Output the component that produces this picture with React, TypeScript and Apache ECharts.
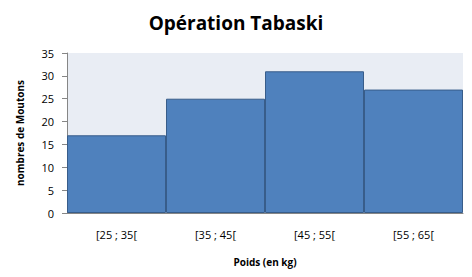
import React, { useEffect, useRef } from "react";
import * as echarts from "echarts";

const categories = ["[25 ; 35[", "[35 ; 45[", "[45 ; 55[", "[55 ; 65["];
const counts = [17, 25, 31, 27];
const title = "Opération Tabaski";
const xTitle = "Poids (en kg)";
const yTitle = "nombres de Moutons";

export default function App() {
  const ref = useRef<HTMLDivElement>(null);
  useEffect(() => {
    if (!ref.current) return;
    const chart = echarts.init(ref.current, null, { renderer: "svg" });
    const font = "'Open Sans', 'Noto Sans', sans-serif";
    chart.setOption({
      animation: false,
      backgroundColor: "#ffffff",
      title: {
        text: title,
        left: "center",
        top: 8,
        textStyle: { fontFamily: font, fontSize: 19, fontWeight: "bold", color: "#000" },
      },
      grid: {
        left: 67,
        right: 9,
        top: 53,
        bottom: 64,
        show: true,
        backgroundColor: "#e9edf4",
        borderWidth: 0,
      },
      xAxis: {
        type: "category",
        data: categories,
        name: xTitle,
        nameLocation: "middle",
        nameGap: 44,
        nameTextStyle: { fontFamily: font, fontSize: 10, fontWeight: "bold", color: "#000" },
        axisLine: { lineStyle: { color: "#868686" } },
        axisTick: { show: false },
        axisLabel: { fontFamily: font, fontSize: 11, color: "#000", margin: 16 },
      },
      yAxis: {
        type: "value",
        min: 0,
        max: 35,
        interval: 5,
        name: yTitle,
        nameLocation: "middle",
        nameGap: 42,
        nameTextStyle: { fontFamily: font, fontSize: 10, fontWeight: "bold", color: "#000" },
        axisLine: { show: true, lineStyle: { color: "#868686" } },
        axisTick: { show: true, length: 5, lineStyle: { color: "#868686" } },
        splitLine: { show: false },
        axisLabel: { fontFamily: font, fontSize: 11, color: "#000", margin: 13 },
      },
      series: [
        {
          type: "bar",
          data: counts,
          barCategoryGap: "0%",
          itemStyle: { color: "#4f81bd", borderColor: "#385d8a", borderWidth: 1 },
        },
      ],
    });
    return () => chart.dispose();
  }, []);
  return <div ref={ref} style={{ width: 472, height: 277, position: "absolute", left: 0, top: 0 }} />;
}
